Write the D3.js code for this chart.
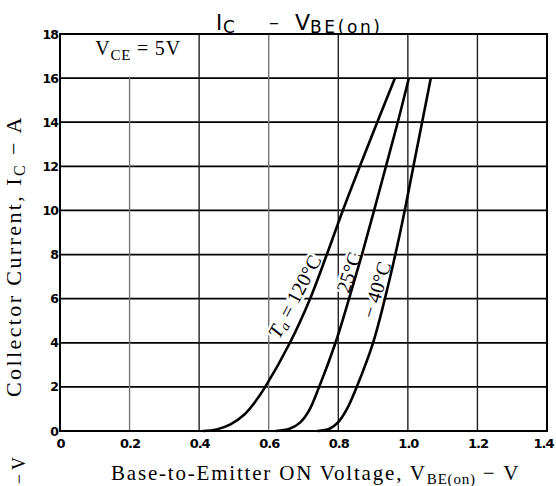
<!DOCTYPE html>
<html>
<head>
<meta charset="utf-8">
<script src="https://cdn.jsdelivr.net/npm/d3@7"></script>
<style>
  body { margin: 0; background: #fff; }
  svg { display: block; }
  .ticklbl text { font-family: "DejaVu Sans", sans-serif; font-weight: bold; font-size: 12.5px; fill: #000; letter-spacing: -1px; }
  .serif { font-family: "Liberation Serif", "Times New Roman", serif; fill: #000; }
</style>
</head>
<body>
<div id="chart"></div>
<script>
// ---- datos ----
const xTicks = [0, 0.2, 0.4, 0.6, 0.8, 1.0, 1.2, 1.4]
const xTickLabels = ["0", "0.2", "0.4", "0.6", "0.8", "1.0", "1.2", "1.4"]
const yTicks = [0, 2, 4, 6, 8, 10, 12, 14, 16, 18]

// Ta = 120°C
const vbe120 = [0.41, 0.45, 0.49, 0.53, 0.56, 0.59, 0.661, 0.719, 0.767, 0.813, 0.862, 0.912, 0.963]
const ic120  = [0,    0.07, 0.3,  0.75, 1.3,  2,    4,     6,     8,     10,    12,    14,    16]
// 25°C
const vbe25 = [0.62, 0.66, 0.69, 0.715, 0.745, 0.792, 0.831, 0.868, 0.903, 0.937, 0.971, 1.003]
const ic25  = [0,    0.1,  0.38, 0.9,   2,     4,     6,     8,     10,    12,    14,    16]
// -40°C
const vbe40 = [0.74, 0.775, 0.80, 0.825, 0.853, 0.90, 0.934, 0.964, 0.991, 1.016, 1.041, 1.066]
const ic40  = [0,    0.1,   0.4,  1.0,   2,     4,    6,     8,     10,    12,    14,    16]

const series = [
  { vbe: vbe120, ic: ic120 },
  { vbe: vbe25, ic: ic25 },
  { vbe: vbe40, ic: ic40 }
]

// ---- tamaños ----
const anchoTotal = 556
const altoTotal = 486
const margins = { left: 60, top: 34, right: 9, bottom: 55 }
const ancho = anchoTotal - margins.left - margins.right
const alto = altoTotal - margins.top - margins.bottom

const svg = d3.select("#chart")
  .append("svg")
  .attr("width", anchoTotal)
  .attr("height", altoTotal)

const x = d3.scaleLinear().domain([0, 1.4]).range([margins.left, margins.left + ancho])
const y = d3.scaleLinear().domain([0, 18]).range([margins.top + alto, margins.top])

// rejilla
const grid = svg.append("g")
grid.selectAll("line.h")
  .data(yTicks.slice(1, -1))
  .join("line")
  .attr("class", "h")
  .attr("x1", x(0)).attr("x2", x(1.4))
  .attr("y1", d => y(d)).attr("y2", d => y(d))
  .attr("stroke", "#000").attr("stroke-width", 1.8)

grid.selectAll("line.v")
  .data(xTicks.slice(1, -1))
  .join("line")
  .attr("class", "v")
  .attr("x1", d => x(d)).attr("x2", d => x(d))
  .attr("y1", d => d === 0.2 ? y(16) : y(18))
  .attr("y2", y(0))
  .attr("stroke", d => (d === 0.2 || d === 0.6) ? "#777" : "#222")
  .attr("stroke-width", 1.4)

// marco
svg.append("rect")
  .attr("x", x(0)).attr("y", y(18))
  .attr("width", x(1.4) - x(0)).attr("height", y(0) - y(18))
  .attr("fill", "none").attr("stroke", "#000").attr("stroke-width", 2)

// ejes (solo etiquetas)
const xAxis = d3.axisBottom(x).tickValues(xTicks)
  .tickFormat((d, i) => xTickLabels[i]).tickSize(0).tickPadding(8)
svg.append("g").attr("class", "ticklbl")
  .attr("transform", `translate(0, ${y(0)})`)
  .call(xAxis)
  .call(g => g.select(".domain").remove())
  .selectAll("text")
  .style("font-size", "13px")
  .attr("dx", d => d === 1.4 ? -4 : 0)

const yAxis = d3.axisLeft(y).tickValues(yTicks).tickSize(0).tickPadding(2)
svg.append("g").attr("class", "ticklbl")
  .attr("transform", `translate(${x(0)}, 0)`)
  .call(yAxis)
  .call(g => g.select(".domain").remove())

// etiquetas de curvas
const lbl = svg.append("g").attr("class", "serif")
  .attr("font-size", 20)
  .attr("stroke", "#fff").attr("stroke-width", 5)
  .attr("paint-order", "stroke")
  .attr("text-anchor", "middle")
  .attr("dominant-baseline", "central")

const t120 = lbl.append("text")
  .attr("transform", `translate(${x(0.674)}, ${y(6.1)}) rotate(-62)`)
t120.append("tspan").attr("font-style", "italic").text("T")
t120.append("tspan").attr("font-style", "italic").attr("font-size", 14).attr("dy", 5).text("a")
t120.append("tspan").attr("dy", -5).text(" = 120°C")

lbl.append("text")
  .attr("transform", `translate(${x(0.83)}, ${y(7.2)}) rotate(-72)`)
  .text("25°C")

lbl.append("text")
  .attr("transform", `translate(${x(0.909)}, ${y(6.4)}) rotate(-73)`)
  .text("− 40°C")

// curvas
const linea = d3.line()
  .x(d => x(d[0]))
  .y(d => y(d[1]))
  .curve(d3.curveCatmullRom.alpha(0.5))

svg.append("g")
  .selectAll("path")
  .data(series)
  .join("path")
  .attr("d", s => linea(s.vbe.map((v, i) => [v, s.ic[i]])))
  .attr("fill", "none")
  .attr("stroke", "#000")
  .attr("stroke-width", 2.6)

// V_CE = 5V
const vce = svg.append("text").attr("class", "serif")
  .attr("x", x(0.101)).attr("y", y(17.03))
  .attr("font-size", 20)
  .attr("letter-spacing", 0.8)
vce.append("tspan").text("V")
vce.append("tspan").attr("font-size", 15).attr("dy", 5).text("CE")
vce.append("tspan").attr("dy", -5).text(" = 5V")

// título
const titulo = svg.append("g")
  .attr("font-family", "DejaVu Sans, sans-serif")
titulo.append("text").attr("x", 216).attr("y", 30).attr("font-size", 21).text("I")
titulo.append("text").attr("x", 223).attr("y", 33).attr("font-size", 17).text("C")
titulo.append("text").attr("x", 269).attr("y", 29).attr("font-size", 20).text("–")
const tv = titulo.append("text").attr("x", 295).attr("y", 30).attr("font-size", 22)
tv.append("tspan").text("V")
tv.append("tspan").attr("font-size", 17).attr("dy", 3).attr("letter-spacing", 2.6).text("BE(on)")

// eje X titulo
const xt = svg.append("text").attr("class", "serif")
  .attr("x", 111).attr("y", 480)
  .attr("font-size", 21)
  .attr("letter-spacing", 1.8)
xt.append("tspan").text("Base-to-Emitter ON Voltage, V")
xt.append("tspan").attr("font-size", 15).attr("dy", 4).attr("letter-spacing", 0.8).text("BE(on)")
xt.append("tspan").attr("dy", -4).text(" − V")

// eje Y titulo
const yt = svg.append("text").attr("class", "serif")
  .attr("transform", `translate(21, 397) rotate(-90)`)
  .attr("font-size", 22)
  .attr("letter-spacing", 2.4)
yt.append("tspan").text("Collector Current, I")
yt.append("tspan").attr("font-size", 16).attr("dy", 4).text("C")
yt.append("tspan").attr("dy", -4).text(" − A")

// resto de un texto cortado en la esquina
svg.append("text").attr("class", "serif")
  .attr("transform", `translate(25, 457) rotate(-90)`)
  .attr("font-size", 18)
  .attr("text-anchor", "end")
  .text("− V")
</script>
</body>
</html>
